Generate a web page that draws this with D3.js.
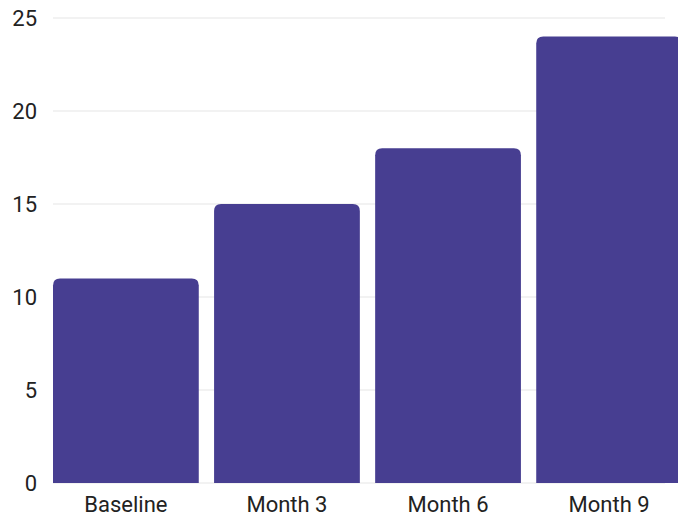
<!DOCTYPE html>
<html>
<head>
<meta charset="utf-8">
<script src="https://cdn.jsdelivr.net/npm/d3@7"></script>
<style>
  body { margin: 0; background: #fff; }
  svg { display: block; font-family: Roboto, sans-serif; }
</style>
</head>
<body>
<script>
const categories = ["Baseline", "Month 3", "Month 6", "Month 9"];
const values = [11, 15, 18, 24];
const yTicks = [0, 5, 10, 15, 20, 25];

const width = 678, height = 516;
const margin = { top: 18, right: -4, bottom: 33, left: 53 };
const innerW = width - margin.left - margin.right;
const innerH = height - margin.top - margin.bottom;

const svg = d3.select("body").append("svg")
    .attr("width", width)
    .attr("height", height);

const g = svg.append("g")
    .attr("transform", `translate(${margin.left}, ${margin.top})`);

const x = d3.scaleBand().domain(categories).range([0, innerW]).paddingInner(0.095).paddingOuter(0);
const y = d3.scaleLinear().domain([0, 25]).range([innerH, 0]);

// gridlines
g.selectAll(".grid")
  .data(yTicks)
  .enter().append("line")
    .attr("class", "grid")
    .attr("x1", 0)
    .attr("x2", 665 - margin.left)
    .attr("y1", d => y(d))
    .attr("y2", d => y(d))
    .attr("stroke", "#e5e5e5")
    .attr("stroke-width", 1);

// y labels
g.selectAll(".ylab")
  .data(yTicks)
  .enter().append("text")
    .attr("x", -16)
    .attr("y", d => y(d))
    .attr("dy", "0.35em")
    .attr("text-anchor", "end")
    .attr("fill", "#222")
    .style("font-size", "22px")
    .text(d => d);

// bars with rounded top corners
const r = 7;
const barPath = (d, i) => {
  const x0 = x(categories[i]), x1 = x0 + x.bandwidth();
  const y0 = y(d), yb = y(0);
  return `M${x0},${yb}V${y0 + r}Q${x0},${y0} ${x0 + r},${y0}H${x1 - r}Q${x1},${y0} ${x1},${y0 + r}V${yb}Z`;
};

g.selectAll(".bar")
  .data(values)
  .enter().append("path")
    .attr("class", "bar")
    .attr("fill", "#473e91")
    .attr("d", barPath);

// x labels
g.selectAll(".xlab")
  .data(categories)
  .enter().append("text")
    .attr("x", d => x(d) + x.bandwidth() / 2)
    .attr("y", innerH + 21)
    .attr("dy", "0.35em")
    .attr("text-anchor", "middle")
    .attr("fill", "#222")
    .style("font-size", "22px")
    .text(d => d);
</script>
</body>
</html>
